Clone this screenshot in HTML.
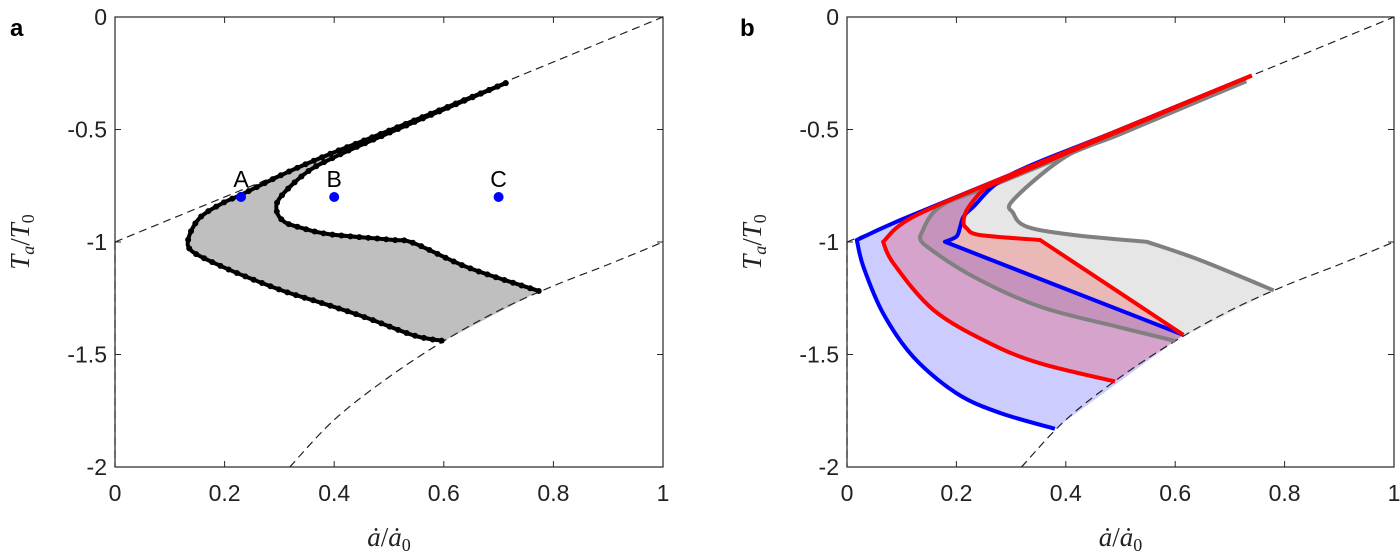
<!DOCTYPE html>
<html><head><meta charset="utf-8"><style>
body{margin:0;background:#fff;width:1400px;height:558px;overflow:hidden}
svg{display:block}
</style></head><body>
<svg id="fig" width="1400" height="558" font-family="Liberation Sans, sans-serif"></svg>
<script>
// ---- data ----
const xTicks=[0,0.2,0.4,0.6,0.8,1];
const xTickLabels=["0","0.2","0.4","0.6","0.8","1"];
const yTicks=[0,-0.5,-1,-1.5,-2];
const yTickLabels=["0","-0.5","-1","-1.5","-2"];
const upperBoundX=[0,1];
const upperBoundY=[-1,0];
const lowerBoundX=[0.319,0.4,0.5,0.6,0.7,0.8,0.9,1];
const lowerBoundY=[-2,-1.79,-1.6,-1.44,-1.305,-1.195,-1.1,-1];
// panel a
const aOuterX=[0.713,0.5,0.396,0.31,0.23,0.194,0.154,0.134,0.14,0.187,0.24,0.31,0.376,0.457,0.545,0.6];
const aOuterY=[-0.294,-0.505,-0.605,-0.695,-0.79,-0.83,-0.894,-0.985,-1.04,-1.1,-1.155,-1.22,-1.27,-1.335,-1.415,-1.44];
const aInnerX=[0.713,0.5,0.403,0.35,0.302,0.295,0.309,0.336,0.39,0.504,0.545,0.646,0.774];
const aInnerY=[-0.294,-0.515,-0.62,-0.69,-0.8,-0.862,-0.91,-0.934,-0.965,-0.99,-1.005,-1.115,-1.218];
const ptNames=["A","B","C"];
const ptX=[0.23,0.4,0.7];
const ptY=[-0.8,-0.8,-0.8];
// panel b
const gOuterX=[0.73,0.5,0.28,0.17,0.133,0.146,0.231,0.353,0.493,0.6];
const gOuterY=[-0.285,-0.515,-0.735,-0.843,-0.976,-1.02,-1.154,-1.287,-1.376,-1.44];
const gInnerX=[0.73,0.5,0.4,0.304,0.304,0.329,0.414,0.548,0.645,0.78];
const gInnerY=[-0.285,-0.52,-0.62,-0.813,-0.872,-0.932,-0.969,-0.999,-1.08,-1.215];
const rOuterX=[0.74,0.5,0.3,0.121,0.066,0.085,0.158,0.261,0.353,0.49];
const rOuterY=[-0.26,-0.5,-0.7,-0.888,-0.999,-1.095,-1.302,-1.45,-1.539,-1.62];
const rInnerX=[0.74,0.5,0.286,0.249,0.219,0.213,0.219,0.243,0.353,0.615];
const rInnerY=[-0.26,-0.505,-0.724,-0.769,-0.858,-0.917,-0.94,-0.969,-0.991,-1.413];
const bOuterX=[0.73,0.5,0.3,0.1,0.018,0.03,0.066,0.121,0.2,0.28,0.38];
const bOuterY=[-0.27,-0.5,-0.7,-0.9,-0.991,-1.11,-1.317,-1.51,-1.672,-1.76,-1.83];
const bInnerX=[0.73,0.5,0.3,0.231,0.213,0.207,0.2,0.179,0.615];
const bInnerY=[-0.27,-0.5,-0.7,-0.843,-0.888,-0.932,-0.976,-0.999,-1.413];
// corner indexes (sharp turns) for outer / inner lines
const gCornersOuter=[4], gCornersInner=[7];
const rCornersOuter=[4], rCornersInner=[6,8];
const bCornersOuter=[4], bCornersInner=[7];

const NS="http://www.w3.org/2000/svg";
const svg=document.getElementById('fig');
function mk(tag,attrs,parent){const e=document.createElementNS(NS,tag);for(const k in attrs)e.setAttribute(k,attrs[k]);(parent||svg).appendChild(e);return e;}
function makeAxes(x0,x1){
  const y0=17,y1=467;
  return {sx:v=>x0+(x1-x0)*v, sy:v=>y0+(y1-y0)*(-v/2), x0,x1,y0,y1};
}
function pts(ax,xs,ys){return xs.map((v,i)=>[ax.sx(v),ax.sy(ys[i])]);}
function linPath(p,start){return p.map((q,i)=>((i||!start)?'L':'M')+q[0].toFixed(1)+','+q[1].toFixed(1)).join(' ');}
function smoothPath(p,start){
  let d=(start?'M':'L')+p[0][0].toFixed(1)+','+p[0][1].toFixed(1);
  for(let i=0;i<p.length-1;i++){
    const p0=p[i-1]||p[i],p1=p[i],p2=p[i+1],p3=p[i+2]||p2;
    const c1=[p1[0]+(p2[0]-p0[0])/6,p1[1]+(p2[1]-p0[1])/6];
    const c2=[p2[0]-(p3[0]-p1[0])/6,p2[1]-(p3[1]-p1[1])/6];
    d+=` C${c1[0].toFixed(1)},${c1[1].toFixed(1)} ${c2[0].toFixed(1)},${c2[1].toFixed(1)} ${p2[0].toFixed(1)},${p2[1].toFixed(1)}`;
  }
  return d;
}
function cornerPath(p,ks,start){
  const cuts=[0].concat(ks.slice().sort((a,b)=>a-b),[p.length-1]);
  let d='';
  for(let i=0;i<cuts.length-1;i++){
    d+=(i?' ':'')+smoothPath(p.slice(cuts[i],cuts[i+1]+1),start&&i===0);
  }
  return d;
}
function drawFrame(ax,g,letter,lx){
  mk('rect',{x:ax.x0,y:ax.y0,width:ax.x1-ax.x0,height:ax.y1-ax.y0,fill:'none',stroke:'#262626','stroke-width':1.2},g);
  xTicks.forEach((v,i)=>{
    const x=ax.sx(v);
    mk('line',{x1:x,x2:x,y1:ax.y1,y2:ax.y1-6,stroke:'#262626'},g);
    mk('line',{x1:x,x2:x,y1:ax.y0,y2:ax.y0+6,stroke:'#262626'},g);
    const t=mk('text',{x:x,y:ax.y1+34,'text-anchor':'middle','font-size':23,fill:'#222'},g);
    
    
    t.textContent=xTickLabels[i];
  });
  yTicks.forEach((v,i)=>{
    const y=ax.sy(v);
    mk('line',{x1:ax.x0,x2:ax.x0+6,y1:y,y2:y,stroke:'#262626'},g);
    mk('line',{x1:ax.x1,x2:ax.x1-6,y1:y,y2:y,stroke:'#262626'},g);
    const t=mk('text',{x:ax.x0-8,y:y+8,'text-anchor':'end','font-size':23,fill:'#222'},g);
    
    
    t.textContent=yTickLabels[i];
  });
  const xt=mk('text',{x:(ax.x0+ax.x1)/2,y:546,'text-anchor':'middle','font-size':27,style:'font-family:"Liberation Serif",serif',fill:'#222'},g);
  
  
  xt.innerHTML='<tspan font-style="italic">ȧ</tspan>/<tspan font-style="italic">ȧ</tspan><tspan font-size="18" dy="5">0</tspan>';
  const yt=mk('text',{x:0,y:0,'text-anchor':'middle','font-size':27,style:'font-family:"Liberation Serif",serif',fill:'#222',transform:`translate(${ax.x0-86},242) rotate(-90)`},g);
  
  
  yt.innerHTML='<tspan font-style="italic">T</tspan><tspan font-size="18" dy="5" font-style="italic">a</tspan><tspan dy="-5">/</tspan><tspan font-style="italic">T</tspan><tspan font-size="18" dy="5">0</tspan>';
  const pl=mk('text',{x:lx,y:36,'font-size':24,'font-weight':'bold',fill:'#000'},g);
  
  
  pl.textContent=letter;
}
function drawBounds(ax,g){
  const u=mk('path',{d:linPath(pts(ax,upperBoundX,upperBoundY),true),fill:'none',stroke:'#222','stroke-width':1.2,'stroke-dasharray':'8,5'},g);
  
  
  const l=mk('path',{d:smoothPath(pts(ax,lowerBoundX,lowerBoundY),true),fill:'none',stroke:'#222','stroke-width':1.2,'stroke-dasharray':'8,5'},g);
  
  
  const v=mk('path',{d:linPath(pts(ax,[0,0],[-1,-2]),true),fill:'none',stroke:'#222','stroke-width':1.2,'stroke-dasharray':'8,5'},g);
  
  
}
// Panel a
const ga=mk('g',{});


const axA=makeAxes(115,663);
{
  const o=pts(axA,aOuterX,aOuterY), inn=pts(axA,aInnerX,aInnerY).reverse();
  const fa=mk('path',{d:smoothPath(o,true)+' '+smoothPath(inn,false)+' Z',fill:'#bfbfbf',stroke:'none'},ga);
  
  
}
drawBounds(axA,ga);
[[aOuterX,aOuterY,'outer-branch'],[aInnerX,aInnerY,'inner-branch']].forEach(([xs,ys,n])=>{
  const p=mk('path',{d:smoothPath(pts(axA,xs,ys),true),fill:'none',stroke:'#000','stroke-width':4,'stroke-linejoin':'round'},ga);
  
  
  const L=p.getTotalLength();
  for(let s=0;s<L;s+=9){
    const q=p.getPointAtLength(s);
    const c=mk('circle',{cx:q.x,cy:q.y,r:3,fill:'#000'},ga);
    
    
  }
});
ptNames.forEach((n,i)=>{
  const c=mk('circle',{cx:axA.sx(ptX[i]),cy:axA.sy(ptY[i]),r:5,fill:'#0000ff'},ga);
  
  
  const t=mk('text',{x:axA.sx(ptX[i]),y:axA.sy(ptY[i])-10,'text-anchor':'middle','font-size':23,fill:'#000'},ga);
  
  
  t.textContent=n;
});
drawFrame(axA,ga,'a',10);

// Panel b
const gb=mk('g',{});


const axB=makeAxes(847,1394);
const series=[
  [gOuterX,gOuterY,gInnerX,gInnerY,'rgba(128,128,128,0.2)','#808080','grey',gCornersOuter,gCornersInner],
  [bOuterX,bOuterY,bInnerX,bInnerY,'rgba(0,0,255,0.2)','#0000ff','blue',bCornersOuter,bCornersInner],
  [rOuterX,rOuterY,rInnerX,rInnerY,'rgba(255,0,0,0.2)','#ff0000','red',rCornersOuter,rCornersInner]
];
function outerD(s){return cornerPath(pts(axB,s[0],s[1]),s[7],true);}
function innerD(s){return cornerPath(pts(axB,s[2],s[3]),s[8],true);}
series.forEach(s=>{
  const ip=pts(axB,s[2],s[3]);
  const rev=ip.slice().reverse();
  const rks=s[8].map(k=>ip.length-1-k);
  const d=outerD(s)+' '+cornerPath(rev,rks,false)+' Z';
  const f=mk('path',{d:d,fill:s[4],stroke:'none'},gb);
  
  
});
drawBounds(axB,gb);
series.forEach(s=>{
  const p1=mk('path',{d:outerD(s),fill:'none',stroke:s[5],'stroke-width':4,'stroke-linejoin':'round'},gb);
  
  
  const p2=mk('path',{d:innerD(s),fill:'none',stroke:s[5],'stroke-width':4,'stroke-linejoin':'round'},gb);
  
  
});
drawFrame(axB,gb,'b',740);
</script>
</body></html>
